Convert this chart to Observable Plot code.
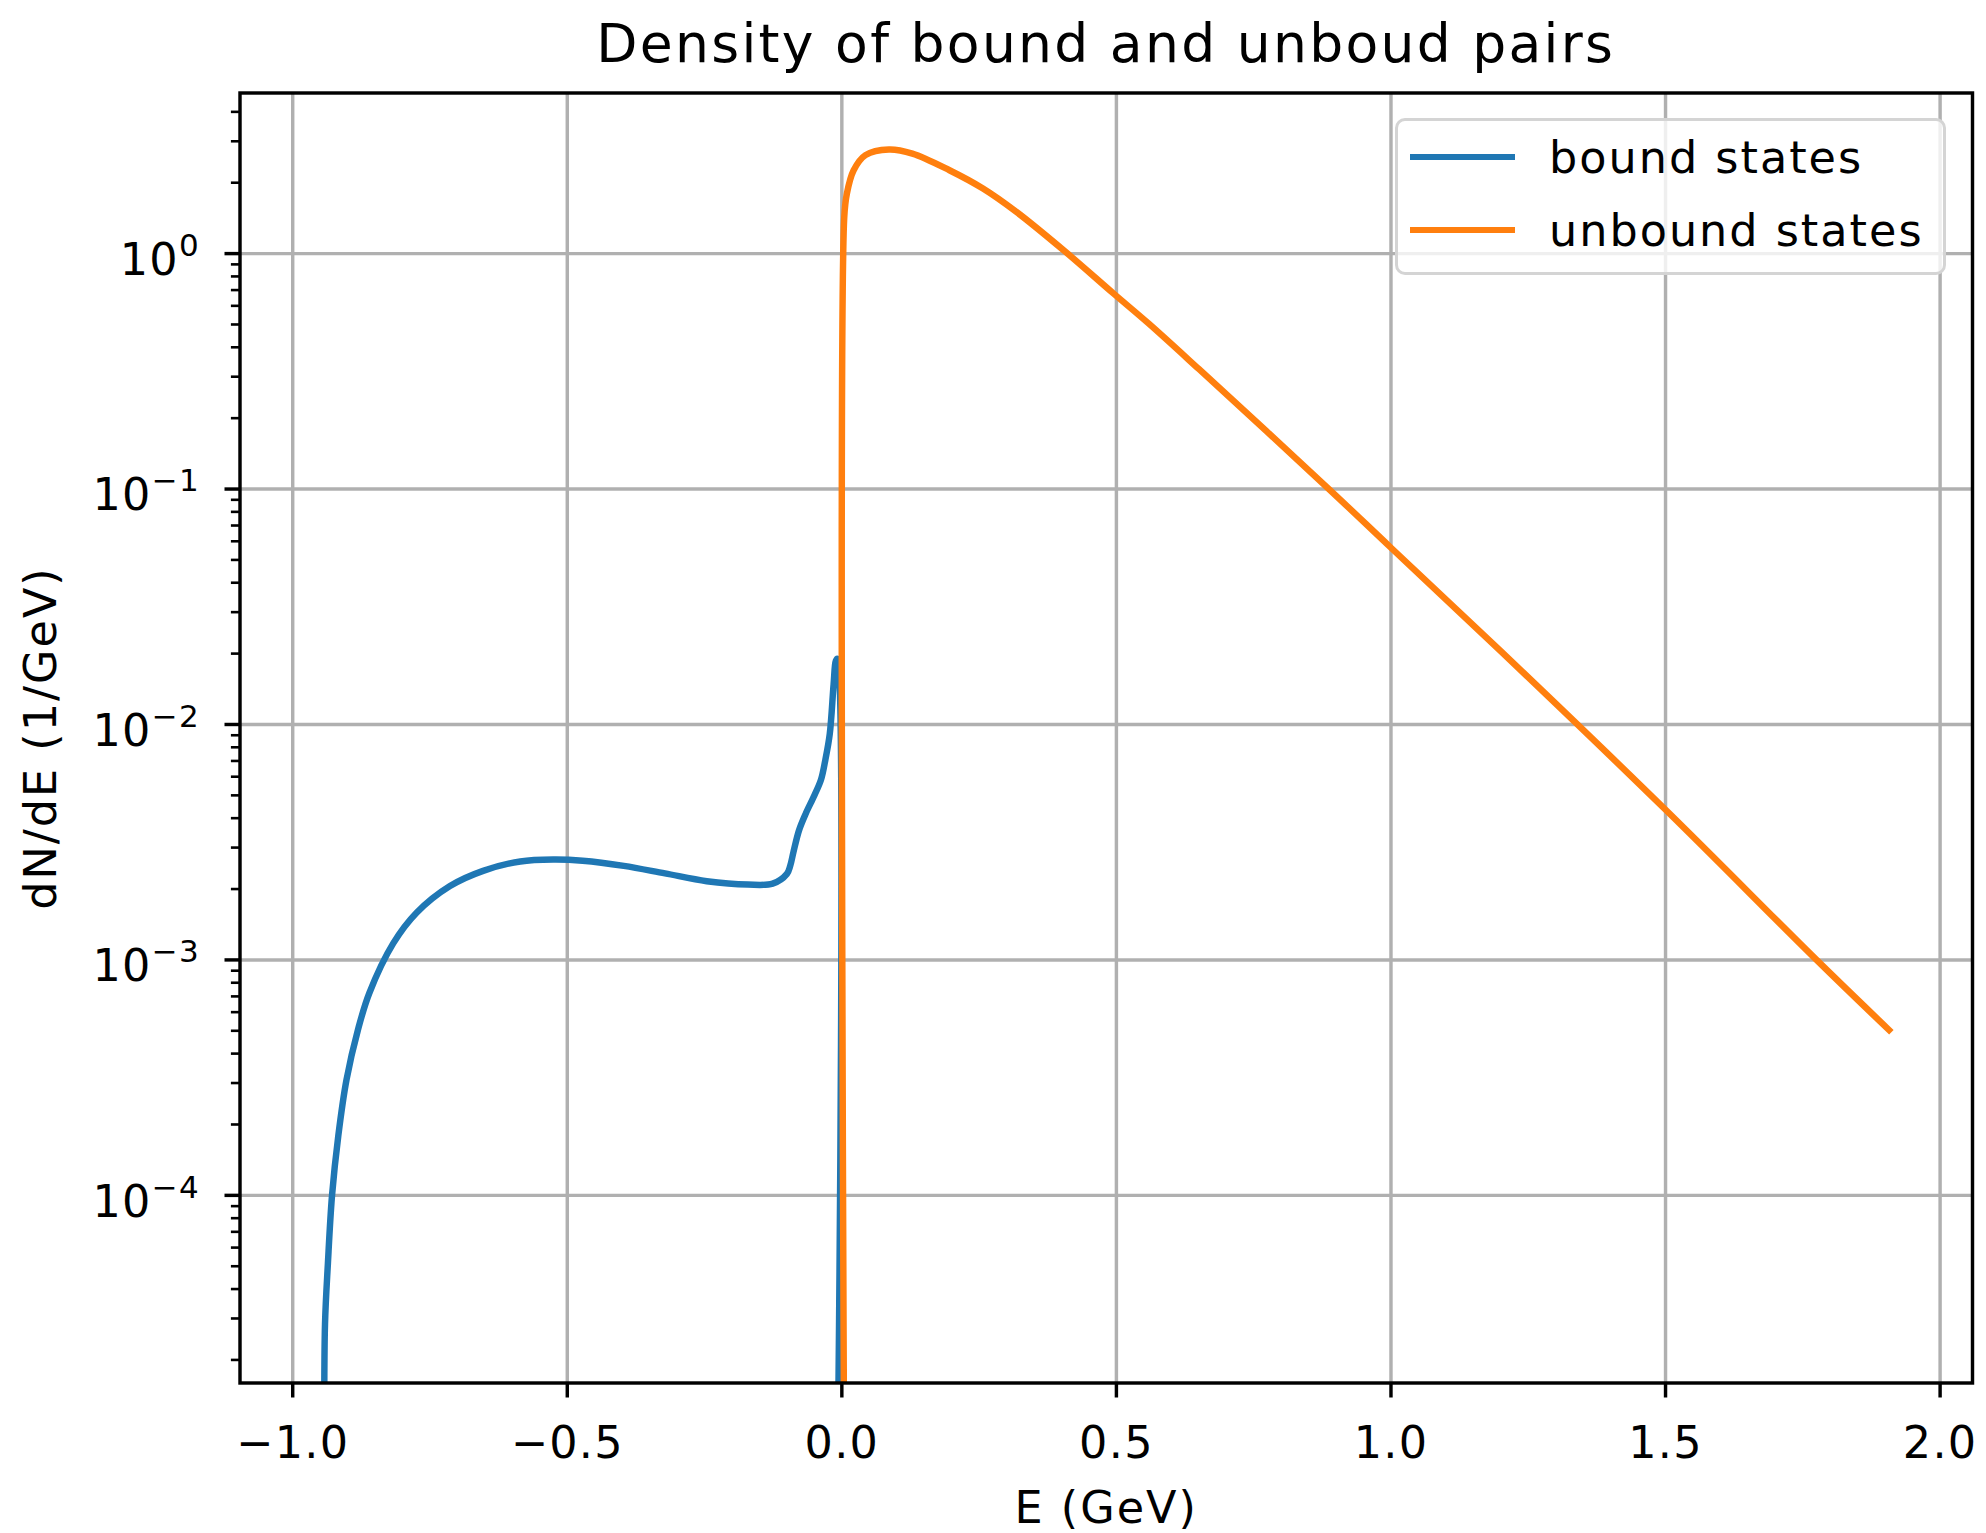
<!DOCTYPE html>
<html>
<head>
<meta charset="utf-8">
<script src="https://cdn.jsdelivr.net/npm/d3@7"></script>
<script src="https://cdn.jsdelivr.net/npm/@observablehq/plot@0.6"></script>
<style>
  html, body { margin: 0; padding: 0; background: #ffffff; }
  #wrap { position: relative; width: 1986px; height: 1533px; font-family: "DejaVu Sans", sans-serif; color: #000; }
  #title { height: 88px; line-height: 88px; margin-left: 239.5px; width: 1732.5px; text-align: center;
           font-size: 53.5px; letter-spacing: 2.3px; white-space: nowrap; }
  #chart svg { display: block; }
  #legend { position: absolute; left: 1395px; top: 118px; width: 551px; height: 157px; box-sizing: border-box;
            background: rgba(255,255,255,0.8); border: 3px solid #d4d4d4; border-radius: 10px; }
  .lg-line { position: absolute; left: 12px; width: 105px; height: 6.5px; }
  .lg-text { position: absolute; left: 151px; height: 60px; line-height: 60px; font-size: 44.5px;
             letter-spacing: 2px; white-space: nowrap; }
</style>
</head>
<body>
<div id="wrap">
  <div id="title"></div>
  <div id="chart"></div>
  <div id="legend"></div>
</div>
<script>
// ---- data ----
const chartTitle = "Density of bound and unboud pairs";
const xLabel = "E (GeV)";
const yLabel = "dN/dE (1/GeV)";
const seriesNames = ["bound states", "unbound states"];
const seriesColors = ["#1f77b4", "#ff7f0e"];

const boundE = [-0.9425, -0.9412, -0.9359, -0.9284, -0.917, -0.902, -0.881, -0.8606, -0.817, -0.774,
                -0.7136, -0.6533, -0.5855, -0.5253, -0.472, -0.397, -0.322, -0.246, -0.171, -0.126,
                -0.100, -0.094, -0.088, -0.078, -0.066, -0.050, -0.038, -0.030, -0.022, -0.015,
                -0.011, -0.008, -0.007];
const boundN = [1.0e-5, 2.83e-5, 5.15e-5, 1.0e-4, 1.79e-4, 3.1e-4, 5.07e-4, 7.22e-4, 1.175e-3, 1.59e-3,
                2.06e-3, 2.39e-3, 2.62e-3, 2.67e-3, 2.64e-3, 2.51e-3, 2.33e-3, 2.16e-3, 2.09e-3, 2.11e-3,
                2.32e-3, 2.51e-3, 2.88e-3, 3.55e-3, 4.17e-3, 5.0e-3, 5.82e-3, 7.08e-3, 9.12e-3, 1.48e-2,
                1.86e-2, 1.9e-2, 1.0e-5];

const unboundE = [0.0040, 0.0044, 0.0092, 0.0215, 0.043, 0.0857, 0.1285, 0.196, 0.257, 0.318,
                  0.405, 0.495, 0.559, 0.650, 0.887, 0.999, 1.197, 1.5015, 1.775, 1.907];
const unboundN = [1.0e-5, 1.43, 1.80, 2.26, 2.62, 2.77, 2.66, 2.26, 1.89, 1.503,
                  1.028, 0.676, 0.504, 0.3236, 0.100, 0.0566, 0.0208, 0.00431, 0.0010, 5.04e-4];

const xTicks = [-1.0, -0.5, 0.0, 0.5, 1.0, 1.5, 2.0];
const yTicks = [1e-4, 1e-3, 1e-2, 1e-1, 1e0];
const yTickLabels = ["10^\u22124", "10^\u22123", "10^\u22122", "10^\u22121", "10^0"];
const xDomain = [-1.096, 2.059];
const yDomain = [1.596e-5, 4.81];

// ---- build ----
const bound = boundE.map((E, i) => ({E, N: boundN[i]}));
const unbound = unboundE.map((E, i) => ({E, N: unboundN[i]}));

// minor log ticks (2..9 x 10^k) inside the y domain
const yMinor = [];
for (let k = -5; k <= 0; k++) {
  for (let m = 2; m <= 9; m++) {
    const v = m * Math.pow(10, k);
    if (v >= yDomain[0] && v <= yDomain[1]) yMinor.push(v);
  }
}

document.getElementById("title").textContent = chartTitle;

const LW = 6.46;    // 1.5pt line
const SW = 3.44;    // 0.8pt spine / grid / major tick
const gridColor = "#b0b0b0";

const chart = Plot.plot({
  width: 1986,
  height: 1445,
  marginTop: 4.5,
  marginBottom: 150.5,
  marginLeft: 239.5,
  marginRight: 14,
  style: { fontFamily: "DejaVu Sans", fontSize: "44.5px", letterSpacing: "1.3px", color: "#000", background: "#ffffff" },
  x: { domain: xDomain },
  y: { type: "log", domain: yDomain },
  marks: [
    Plot.gridX(xTicks, { stroke: gridColor, strokeOpacity: 1, strokeWidth: SW }),
    Plot.gridY(yTicks, { stroke: gridColor, strokeOpacity: 1, strokeWidth: SW }),
    Plot.line(bound, { x: "E", y: "N", stroke: seriesColors[0], strokeWidth: LW, curve: "catmull-rom",
                       strokeLinejoin: "round", strokeLinecap: "square", clip: true }),
    Plot.line(unbound, { x: "E", y: "N", stroke: seriesColors[1], strokeWidth: LW, curve: "catmull-rom",
                         strokeLinejoin: "round", strokeLinecap: "square", clip: true }),
    Plot.axisX(xTicks, { tickSize: 15, tickPadding: 28, strokeWidth: SW, tickFormat: d3.format(".1f"),
                         label: xLabel, labelAnchor: "center", labelOffset: 140, labelArrow: false }),
    Plot.axisY(yMinor, { tickSize: 8.6, strokeWidth: 2.6, tickFormat: () => "", label: null }),
    Plot.axisY(yTicks, { tickSize: 15, strokeWidth: SW, tickFormat: null, label: null, text: null }),
    Plot.axisY(yTicks, { tickSize: 0, tickPadding: 40, dy: 7, tickFormat: d => yTickLabels[yTicks.indexOf(d)],
                         label: yLabel, labelAnchor: "center", labelOffset: 216, labelArrow: false }),
    Plot.frame({ stroke: "#000", strokeWidth: SW })
  ]
});

// render the 10^k labels with a real superscript; widen axis titles like the reference
for (const t of chart.querySelectorAll("text")) {
  const s = t.textContent;
  if (s === xLabel || s === yLabel) { t.style.letterSpacing = "2px"; continue; }
  const m = /^10\^(.+)$/.exec(s);
  if (!m) continue;
  t.textContent = "10";
  const sup = document.createElementNS("http://www.w3.org/2000/svg", "tspan");
  sup.setAttribute("font-size", "31px");
  sup.setAttribute("dy", "-19");
  sup.textContent = m[1];
  t.appendChild(sup);
}
document.getElementById("chart").appendChild(chart);

// legend
const legend = document.getElementById("legend");
const rowCenters = [36, 109];
seriesNames.forEach((name, i) => {
  const line = document.createElement("div");
  line.className = "lg-line";
  line.style.background = seriesColors[i];
  line.style.top = (rowCenters[i] - 3.25) + "px";
  legend.appendChild(line);
  const txt = document.createElement("div");
  txt.className = "lg-text";
  txt.style.top = (rowCenters[i] + 1 - 30) + "px";
  txt.textContent = name;
  legend.appendChild(txt);
});
</script>
</body>
</html>
